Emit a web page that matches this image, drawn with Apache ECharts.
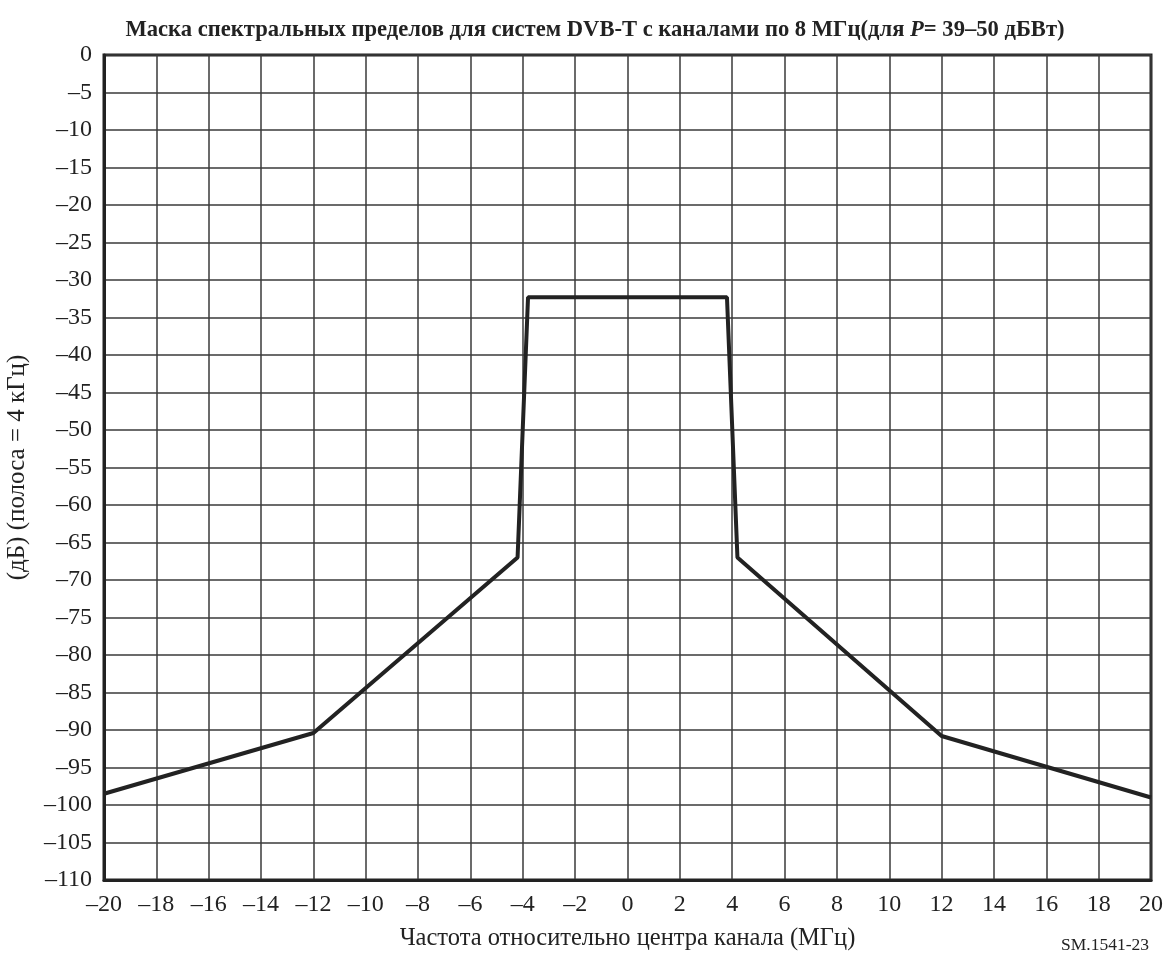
<!DOCTYPE html>
<html>
<head>
<meta charset="utf-8">
<script src="https://cdn.jsdelivr.net/npm/echarts@6/dist/echarts.min.js"></script>
<style>html,body{margin:0;padding:0;background:#fff;}#c{width:1169px;height:961px;}</style>
</head>
<body>
<div id="c"></div>
<script>
const freqMHz = [-20, -12, -4.2, -3.8, 3.8, 4.2, 12, 20];
const levelDb = [-98.5, -90.4, -67, -32.3, -32.3, -67, -90.8, -99];
const xTicks = {min: -20, max: 20, step: 2};
const yTicks = {min: -110, max: 0, step: 5};
const titleText = 'Маска спектральных пределов для систем DVB-T с каналами по 8 МГц';
const xName = 'Частота относительно центра канала (МГц)';
const yName = '(дБ) (полоса = 4 кГц)';
const figId = 'SM.1541-23';

const serif = '"Liberation Serif", "DejaVu Serif", serif';
const fmt = v => v < 0 ? '\u2013' + Math.abs(v) : String(v);
const chart = echarts.init(document.getElementById('c'));
chart.setOption({
  backgroundColor: '#fff',
  animation: false,
  title: {
    text: '{b|' + titleText + '(для }{i|P}{b|= 39–50 дБВт)}',
    left: 590, top: 14, textAlign: 'center',
    textStyle: {
      rich: {
        b: {fontFamily: serif, fontWeight: 'bold', fontSize: 22.6, color: '#222'},
        i: {fontFamily: serif, fontWeight: 'bold', fontStyle: 'italic', fontSize: 22.6, color: '#222'}
      }
    }
  },
  graphic: [{
    type: 'text', left: 1061, top: 936,
    style: {text: figId, font: '17.5px ' + serif, fill: '#222'}
  }],
  grid: {left: 104, right: 18, top: 55, bottom: 81, outerBoundsMode: 'none', containLabel: false,
         show: true, borderColor: '#222', borderWidth: 3, backgroundColor: 'transparent'},
  xAxis: {
    type: 'value', min: xTicks.min, max: xTicks.max, interval: xTicks.step,
    name: xName, nameLocation: 'middle', nameGap: 46,
    nameTextStyle: {fontFamily: serif, fontSize: 24.5, color: '#222'},
    axisLine: {show: true, onZero: false, lineStyle: {color: '#222', width: 3}},
    axisTick: {show: false},
    axisLabel: {formatter: fmt, fontFamily: serif, fontSize: 24, color: '#222', margin: 13},
    splitLine: {show: true, lineStyle: {color: '#3a3a3a', width: 1.5}}
  },
  yAxis: {
    type: 'value', min: yTicks.min, max: yTicks.max, interval: yTicks.step,
    name: yName, nameLocation: 'middle', nameGap: 74, nameRotate: 90,
    nameTextStyle: {fontFamily: serif, fontSize: 25, color: '#222'},
    axisLine: {show: true, onZero: false, lineStyle: {color: '#222', width: 3}},
    axisTick: {show: false},
    axisLabel: {formatter: fmt, fontFamily: serif, fontSize: 24, color: '#222', margin: 12},
    splitLine: {show: true, lineStyle: {color: '#3a3a3a', width: 1.5}}
  },
  series: [{
    type: 'line',
    data: freqMHz.map((f, i) => [f, levelDb[i]]),
    symbol: 'none',
    lineStyle: {color: '#222', width: 4},
    z: 5
  }]
});
</script>
</body>
</html>
